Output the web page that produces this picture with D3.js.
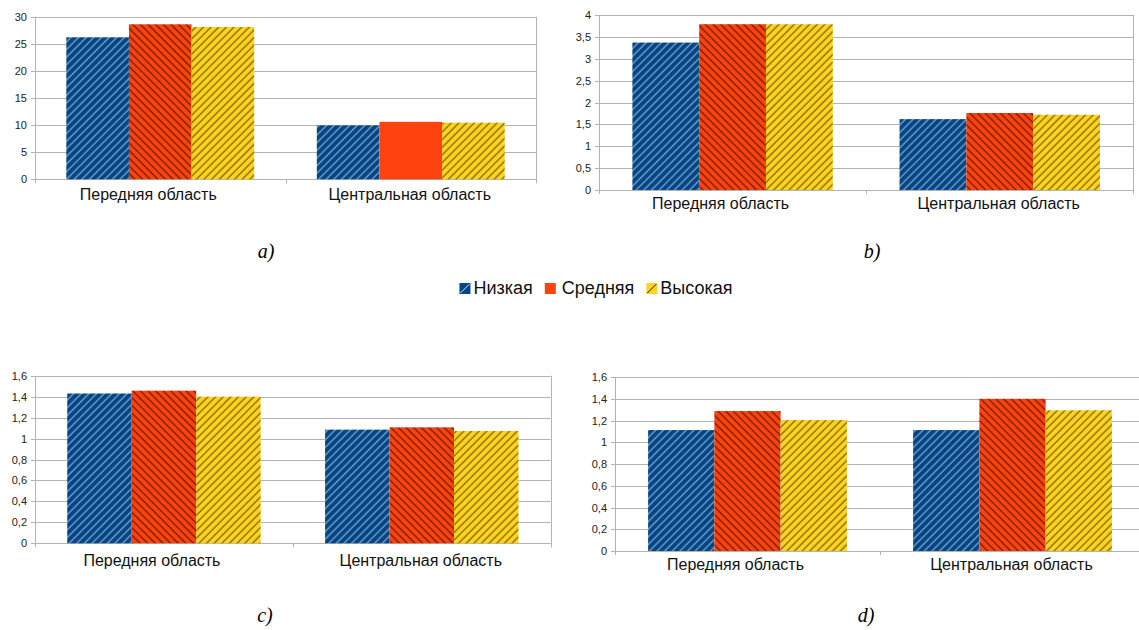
<!DOCTYPE html>
<html>
<head>
<meta charset="utf-8">
<script src="https://cdn.jsdelivr.net/npm/d3@7"></script>
<style>
  body { margin: 0; background: #fff; }
  svg { display: block; font-family: "Liberation Sans", Arial, sans-serif; }
</style>
</head>
<body>
<div id="chart"></div>
<script>
// данные
var categories = ["Передняя область", "Центральная область"];
var series = ["Низкая", "Средняя", "Высокая"];

var lowA = [26.2, 9.95],  midA = [28.6, 10.6],  highA = [28.1, 10.45];
var lowB = [3.37, 1.62],  midB = [3.79, 1.76],  highB = [3.79, 1.72];
var lowC = [1.43, 1.085], midC = [1.457, 1.107], highC = [1.40, 1.072];
var lowD = [1.114, 1.114], midD = [1.289, 1.402], highD = [1.206, 1.296];

var ticksA = [0, 5, 10, 15, 20, 25, 30];
var ticksB = [0, 0.5, 1, 1.5, 2, 2.5, 3, 3.5, 4];
var ticksC = [0, 0.2, 0.4, 0.6, 0.8, 1, 1.2, 1.4, 1.6];
var ticksD = [0, 0.2, 0.4, 0.6, 0.8, 1, 1.2, 1.4, 1.6];

var width = 1139, height = 630;
var gridColor = "#b3b3b3";

var svg = d3.select("#chart")
	.append("svg")
	.attr("width", width)
	.attr("height", height);

// штриховки
var defs = svg.append("defs");
var hs = 5.4;
function hatch(id, bg, lineColor, angle, lw) {
	var p = defs.append("pattern")
		.attr("id", id)
		.attr("patternUnits", "userSpaceOnUse")
		.attr("width", hs)
		.attr("height", hs)
		.attr("patternTransform", "rotate(" + angle + ")");
	p.append("rect").attr("width", hs).attr("height", hs).attr("fill", bg);
	p.append("line")
		.attr("x1", 1).attr("y1", 0).attr("x2", 1).attr("y2", hs)
		.attr("stroke", lineColor)
		.attr("stroke-width", lw);
}
hatch("h-low", "#004586", "#dde8f4", 45, 0.75);
hatch("h-mid", "#ff420e", "#1a0a00", -45, 0.85);
hatch("h-high", "#ffd320", "#2a2200", 45, 0.8);
var fills = ["url(#h-low)", "url(#h-mid)", "url(#h-high)"];
var solid = ["#004586", "#ff420e", "#ffd320"];

var fmt = function(d) { return String(d).replace(".", ","); };
// сдвиг подписей категорий, как в исходнике
var labelShift = [-12, -1];

function drawPanel(cfg) {
	var g = svg.append("g");
	var x = d3.scaleBand().domain(categories).range([cfg.x0, cfg.x1]).padding(0);
	var xs = d3.scaleBand().domain(series).range([0, x.bandwidth()]).paddingInner(0).paddingOuter(0.5);
	var y = d3.scaleLinear().domain([0, cfg.max]).range([cfg.y0, cfg.yTop]);

	// сетка
	g.selectAll(".grid")
		.data(cfg.ticks)
		.enter()
		.append("line")
		.attr("x1", cfg.x0 - 4)
		.attr("x2", cfg.x1)
		.attr("y1", function(d) { return Math.round(y(d)) + 0.5; })
		.attr("y2", function(d) { return Math.round(y(d)) + 0.5; })
		.attr("stroke", gridColor)
		.attr("stroke-width", 1);

	// вертикальные линии слева и справа
	[cfg.x0, cfg.x1].forEach(function(xx) {
		g.append("line")
			.attr("x1", Math.round(xx) + 0.5).attr("x2", Math.round(xx) + 0.5)
			.attr("y1", y(cfg.max)).attr("y2", y(0) + 4)
			.attr("stroke", gridColor);
	});
	// засечки между категориями
	g.append("line")
		.attr("x1", Math.round(cfg.x0 + x.step()) + 0.5)
		.attr("x2", Math.round(cfg.x0 + x.step()) + 0.5)
		.attr("y1", y(0)).attr("y2", y(0) + 4)
		.attr("stroke", gridColor);

	// подписи оси y
	g.selectAll(".ytick")
		.data(cfg.ticks)
		.enter()
		.append("text")
		.attr("x", cfg.x0 - 8)
		.attr("y", function(d) { return y(d) + 4; })
		.attr("text-anchor", "end")
		.attr("font-size", 11)
		.attr("fill", "#222")
		.text(fmt);

	// столбцы
	categories.forEach(function(cat, ci) {
		series.forEach(function(s, si) {
			var v = cfg.data[si][ci];
			var isSolid = cfg.solid && cfg.solid[0] === si && cfg.solid[1] === ci;
			g.append("rect")
				.attr("x", x(cat) + xs(s))
				.attr("y", y(v))
				.attr("width", xs.bandwidth())
				.attr("height", y(0) - y(v))
				.attr("fill", isSolid ? solid[si] : fills[si]);
		});
	});

	// подписи категорий
	g.selectAll(".cat")
		.data(categories)
		.enter()
		.append("text")
		.attr("x", function(d, i) { return x(d) + x.bandwidth() / 2 + labelShift[i]; })
		.attr("y", cfg.labelY)
		.attr("text-anchor", "middle")
		.attr("font-size", 16)
		.attr("fill", "#111")
		.text(function(d) { return d; });

	// буква
	g.append("text")
		.attr("x", cfg.subX)
		.attr("y", cfg.subY)
		.attr("text-anchor", "middle")
		.attr("font-family", "'Liberation Serif', 'Times New Roman', serif")
		.attr("font-style", "italic")
		.attr("font-size", 20)
		.text(cfg.letter);
}

drawPanel({ x0: 35, x1: 536, yTop: 16.7, y0: 179.3, max: 30, ticks: ticksA,
	data: [lowA, midA, highA], solid: [1, 1], labelY: 199.5, subX: 266, subY: 258, letter: "a)" });
drawPanel({ x0: 599, x1: 1133.3, yTop: 15, y0: 190, max: 4, ticks: ticksB,
	data: [lowB, midB, highB], labelY: 208.5, subX: 872, subY: 258, letter: "b)" });
drawPanel({ x0: 35, x1: 550.7, yTop: 375.7, y0: 543.3, max: 1.6, ticks: ticksC,
	data: [lowC, midC, highC], labelY: 566, subX: 265, subY: 622, letter: "c)" });
drawPanel({ x0: 615, x1: 1145, yTop: 377.3, y0: 551, max: 1.6, ticks: ticksD,
	data: [lowD, midD, highD], labelY: 570, subX: 866, subY: 622, letter: "d)" });

// легенда
var legend = svg.append("g");
var lx = 0;
series.forEach(function(s, i) {
	var it = legend.append("g").attr("transform", "translate(" + lx + ",0)");
	var sw = it.append("g");
	sw.append("rect").attr("x", 0).attr("y", -11).attr("width", 11).attr("height", 11)
		.attr("fill", solid[i]);
	if (i !== 1) {
		sw.append("line")
			.attr("x1", 1).attr("y1", -1).attr("x2", 10).attr("y2", -10)
			.attr("stroke", i === 0 ? "#dde8f4" : "#2a2200")
			.attr("stroke-width", 1);
	}
	var t = it.append("text")
		.attr("x", i === 1 ? 17 : 14)
		.attr("y", 0)
		.attr("font-size", 18)
		.attr("fill", "#111")
		.text(s);
	lx += (i === 1 ? 17 : 14) + t.node().getComputedTextLength() + 12;
});
var lw = lx - 12;
legend.attr("transform", "translate(" + (596 - lw / 2) + ",294)");
</script>
</body>
</html>
